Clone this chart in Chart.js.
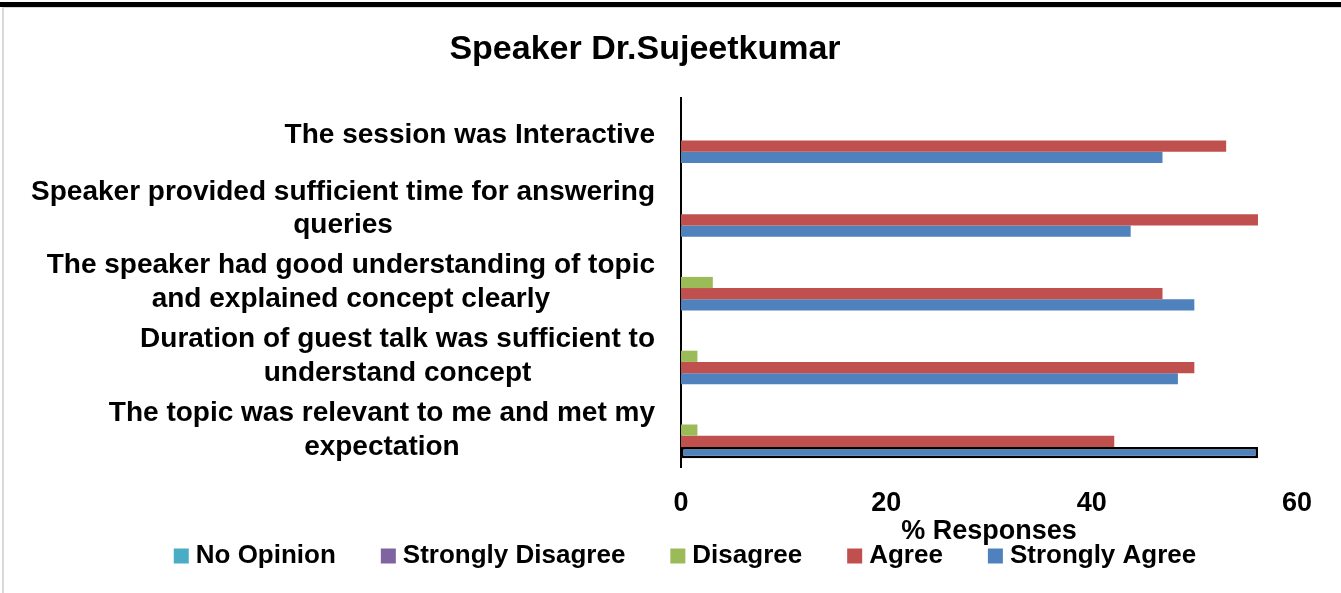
<!DOCTYPE html>
<html>
<head>
<meta charset="utf-8">
<title>Speaker Dr.Sujeetkumar</title>
<script src="https://cdn.jsdelivr.net/npm/chart.js@4.4.1/dist/chart.umd.min.js"></script>
<style>
    html, body { margin: 0; padding: 0; background: #fff; overflow: hidden; }
    #wrap { position: relative; width: 1341px; height: 593px; }
    #wrap canvas { position: absolute; left: 0; top: 0; }
    #topRule { position: absolute; left: 0; top: 2px; width: 1341px; height: 5px; background: #000; }
    #frame { position: absolute; left: 2px; top: 7px; right: 0; bottom: 0; border-left: 2px solid #d9d9d9; border-top: 1px solid #d9d9d9; pointer-events: none; }
</style>
</head>
<body>
<div id="wrap">
    <canvas id="feedbackChart" width="1341" height="593"></canvas>
    <div id="topRule"></div>
    <div id="frame"></div>
</div>
<script>
const chartTitle = 'Speaker Dr.Sujeetkumar';
const xTitle = '% Responses';

const categories = [
    ['The session was Interactive'],
    ['Speaker provided sufficient time for answering', 'queries'],
    ['The speaker had good understanding of topic', 'and explained concept clearly'],
    ['Duration of guest talk was sufficient to', 'understand concept'],
    ['The topic was relevant to me and met my', 'expectation']
];

const seriesNames = ['No Opinion', 'Strongly Disagree', 'Disagree', 'Agree', 'Strongly Agree'];
const seriesColors = ['#4BACC6', '#8064A2', '#9BBB59', '#C0504D', '#4F81BD'];

// % of responses per statement
const noOpinion = [0, 0, 0, 0, 0];
const stronglyDisagree = [0, 0, 0, 0, 0];
const disagree = [0, 0, 3.1, 1.6, 1.6];
const agree = [53.1, 56.2, 46.9, 50.0, 42.2];
const stronglyAgree = [46.9, 43.8, 50.0, 48.4, 56.2];

const xTicks = [0, 20, 40, 60];

// the one bar that carries a black outline
const outlinedBar = 4;

const FONT = "'Liberation Sans', Arial, sans-serif";

document.addEventListener('DOMContentLoaded', function () {
    renderChart();
});

// title, wrapped statement labels and the legend row are painted here
const sideText = {
    id: 'sideText',
    afterDraw(chart) {
        const ctx = chart.ctx;
        const yScale = chart.scales.y;
        ctx.save();
        ctx.fillStyle = '#000';
        ctx.textBaseline = 'middle';
        ctx.textAlign = 'center';

        ctx.font = `bold 34px ${FONT}`;
        ctx.fillText(chartTitle, 645, 50);

        // each label block sits against the axis, its lines centred on each other
        ctx.font = `bold 28px ${FONT}`;
        const right = chart.chartArea.left - 26;
        const lineGap = 33.5;
        categories.forEach((lines, i) => {
            const widest = Math.max(...lines.map(l => ctx.measureText(l).width));
            const cx = right - widest / 2;
            const y0 = yScale.getPixelForValue(i) - (lines.length - 1) * lineGap / 2;
            lines.forEach((line, k) => ctx.fillText(line, cx, y0 + k * lineGap));
        });

        ctx.font = `bold 26px ${FONT}`;
        ctx.textAlign = 'left';
        const box = 15, gap = 7, spacing = 45;
        const items = chart.data.datasets.map(ds => ({
            text: ds.label,
            color: ds.backgroundColor,
            w: ctx.measureText(ds.label).width
        }));
        const total = items.reduce((s, it) => s + box + gap + it.w, 0) + spacing * (items.length - 1);
        let x = 685 - total / 2;
        const y = 556;
        items.forEach(it => {
            ctx.fillStyle = it.color;
            ctx.fillRect(x, y - box / 2, box, box);
            ctx.fillStyle = '#000';
            ctx.fillText(it.text, x + box + gap, y);
            x += box + gap + it.w + spacing;
        });
        ctx.restore();
    }
};

function renderChart() {
    const ctx = document.getElementById('feedbackChart').getContext('2d');
    const values = [noOpinion, stronglyDisagree, disagree, agree, stronglyAgree];

    const datasets = values.map((data, i) => ({
        label: seriesNames[i],
        data: data,
        backgroundColor: seriesColors[i],
        borderWidth: 0,
        categoryPercentage: 0.76,
        barPercentage: 1.0
    }));

    const sa = datasets[4];
    sa.borderColor = stronglyAgree.map((v, i) => i === outlinedBar ? '#000' : 'rgba(0,0,0,0)');
    sa.borderWidth = stronglyAgree.map((v, i) => i === outlinedBar ? 2.5 : 0);
    sa.borderSkipped = false;

    new Chart(ctx, {
        type: 'bar',
        data: {
            labels: categories,
            datasets: datasets
        },
        options: {
            indexAxis: 'y',
            responsive: false,
            animation: false,
            events: [],
            layout: {
                padding: { top: 98, right: 44, bottom: 48, left: 0 }
            },
            plugins: {
                legend: { display: false },
                title: { display: false },
                tooltip: { enabled: false }
            },
            scales: {
                x: {
                    min: 0,
                    max: 60,
                    afterBuildTicks: scale => { scale.ticks = xTicks.map(v => ({ value: v })); },
                    grid: { display: false, drawTicks: false },
                    border: { display: false },
                    ticks: {
                        padding: 23,
                        color: '#000',
                        font: { family: FONT, size: 27, weight: 'bold', lineHeight: 1 }
                    },
                    title: {
                        display: true,
                        text: xTitle,
                        color: '#000',
                        font: { family: FONT, size: 27, weight: 'bold', lineHeight: 1 },
                        padding: { top: -22, bottom: 0 }
                    }
                },
                y: {
                    grid: { display: false, drawTicks: false },
                    border: { display: true, color: '#000', width: 2 },
                    ticks: { display: false },
                    afterFit: scale => { scale.width = 681; }
                }
            }
        },
        plugins: [sideText]
    });
}
</script>
</body>
</html>
